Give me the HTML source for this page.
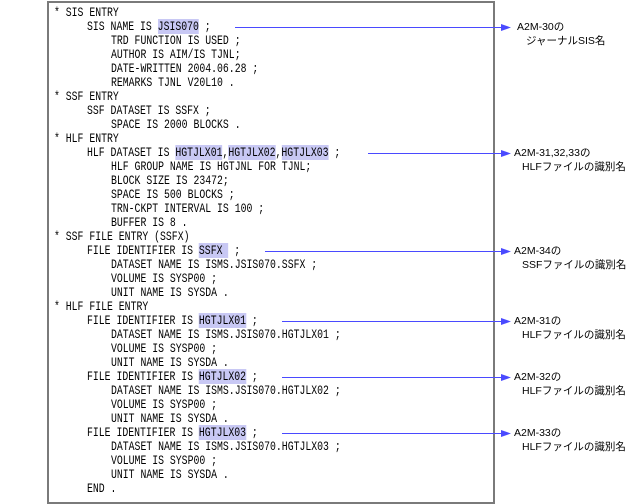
<!DOCTYPE html>
<html><head><meta charset="utf-8"><style>
body{margin:0;width:635px;height:503px;background:#fff;overflow:hidden;position:relative}
.box{position:absolute;left:47px;top:1px;width:444px;height:499px;border:2px solid #7a7a7a;box-sizing:content-box}
.l{position:absolute;height:14px;line-height:14px;font-family:"Liberation Mono",monospace;font-size:13px;transform:scaleX(0.755);transform-origin:0 50%;white-space:pre;color:#000}
.h{background:#c8c8f4}
.lab{position:absolute;font-family:"Liberation Sans","Noto Sans CJK JP",sans-serif;font-size:10.5px;line-height:14px;white-space:pre;color:#000}
</style></head><body>
<div class="box"></div>
<div class="l" style="left:54px;top:6px">* SIS ENTRY</div>
<div class="l" style="left:87px;top:20px">SIS NAME IS <span class="h">JSIS070</span> ;</div>
<div class="l" style="left:111px;top:34px">TRD FUNCTION IS USED ;</div>
<div class="l" style="left:111px;top:48px">AUTHOR IS AIM/IS TJNL;</div>
<div class="l" style="left:111px;top:62px">DATE-WRITTEN 2004.06.28 ;</div>
<div class="l" style="left:111px;top:76px">REMARKS TJNL V20L10 .</div>
<div class="l" style="left:54px;top:90px">* SSF ENTRY</div>
<div class="l" style="left:87px;top:104px">SSF DATASET IS SSFX ;</div>
<div class="l" style="left:111px;top:118px">SPACE IS 2000 BLOCKS .</div>
<div class="l" style="left:54px;top:132px">* HLF ENTRY</div>
<div class="l" style="left:87px;top:146px">HLF DATASET IS <span class="h">HGTJLX01</span>,<span class="h">HGTJLX02</span>,<span class="h">HGTJLX03</span> ;</div>
<div class="l" style="left:111px;top:160px">HLF GROUP NAME IS HGTJNL FOR TJNL;</div>
<div class="l" style="left:111px;top:174px">BLOCK SIZE IS 23472;</div>
<div class="l" style="left:111px;top:188px">SPACE IS 500 BLOCKS ;</div>
<div class="l" style="left:111px;top:202px">TRN-CKPT INTERVAL IS 100 ;</div>
<div class="l" style="left:111px;top:216px">BUFFER IS 8 .</div>
<div class="l" style="left:54px;top:230px">* SSF FILE ENTRY (SSFX)</div>
<div class="l" style="left:87px;top:244px">FILE IDENTIFIER IS <span class="h">SSFX </span> ;</div>
<div class="l" style="left:111px;top:258px">DATASET NAME IS ISMS.JSIS070.SSFX ;</div>
<div class="l" style="left:111px;top:272px">VOLUME IS SYSP00 ;</div>
<div class="l" style="left:111px;top:286px">UNIT NAME IS SYSDA .</div>
<div class="l" style="left:54px;top:300px">* HLF FILE ENTRY</div>
<div class="l" style="left:87px;top:314px">FILE IDENTIFIER IS <span class="h">HGTJLX01</span> ;</div>
<div class="l" style="left:111px;top:328px">DATASET NAME IS ISMS.JSIS070.HGTJLX01 ;</div>
<div class="l" style="left:111px;top:342px">VOLUME IS SYSP00 ;</div>
<div class="l" style="left:111px;top:356px">UNIT NAME IS SYSDA .</div>
<div class="l" style="left:87px;top:370px">FILE IDENTIFIER IS <span class="h">HGTJLX02</span> ;</div>
<div class="l" style="left:111px;top:384px">DATASET NAME IS ISMS.JSIS070.HGTJLX02 ;</div>
<div class="l" style="left:111px;top:398px">VOLUME IS SYSP00 ;</div>
<div class="l" style="left:111px;top:412px">UNIT NAME IS SYSDA .</div>
<div class="l" style="left:87px;top:426px">FILE IDENTIFIER IS <span class="h">HGTJLX03</span> ;</div>
<div class="l" style="left:111px;top:440px">DATASET NAME IS ISMS.JSIS070.HGTJLX03 ;</div>
<div class="l" style="left:111px;top:454px">VOLUME IS SYSP00 ;</div>
<div class="l" style="left:111px;top:468px">UNIT NAME IS SYSDA .</div>
<div class="l" style="left:87px;top:482px">END .</div>
<svg width="635" height="503" style="position:absolute;left:0;top:0">
<g stroke="#4a4aff" stroke-width="1" fill="#4a4aff">
<line x1="235" y1="27.5" x2="503" y2="27.5"/><polygon points="501,24 511,27.5 501,31" stroke="none"/>
<line x1="368" y1="153.5" x2="503" y2="153.5"/><polygon points="501,150 511,153.5 501,157" stroke="none"/>
<line x1="265" y1="251.5" x2="503" y2="251.5"/><polygon points="501,248 511,251.5 501,255" stroke="none"/>
<line x1="282" y1="321.5" x2="503" y2="321.5"/><polygon points="501,318 511,321.5 501,325" stroke="none"/>
<line x1="282" y1="377.5" x2="503" y2="377.5"/><polygon points="501,374 511,377.5 501,381" stroke="none"/>
<line x1="282" y1="433.5" x2="503" y2="433.5"/><polygon points="501,430 511,433.5 501,437" stroke="none"/>
</g></svg>
<div class="lab" style="left:517px;top:20px">A2M-30の</div>
<div class="lab" style="left:526px;top:34px">ジャーナルSIS名</div>
<div class="lab" style="left:514px;top:146px">A2M-31,32,33の</div>
<div class="lab" style="left:522px;top:160px">HLFファイルの識別名</div>
<div class="lab" style="left:514px;top:244px">A2M-34の</div>
<div class="lab" style="left:522px;top:258px">SSFファイルの識別名</div>
<div class="lab" style="left:514px;top:314px">A2M-31の</div>
<div class="lab" style="left:522px;top:328px">HLFファイルの識別名</div>
<div class="lab" style="left:514px;top:370px">A2M-32の</div>
<div class="lab" style="left:522px;top:384px">HLFファイルの識別名</div>
<div class="lab" style="left:514px;top:426px">A2M-33の</div>
<div class="lab" style="left:522px;top:440px">HLFファイルの識別名</div>
</body></html>
